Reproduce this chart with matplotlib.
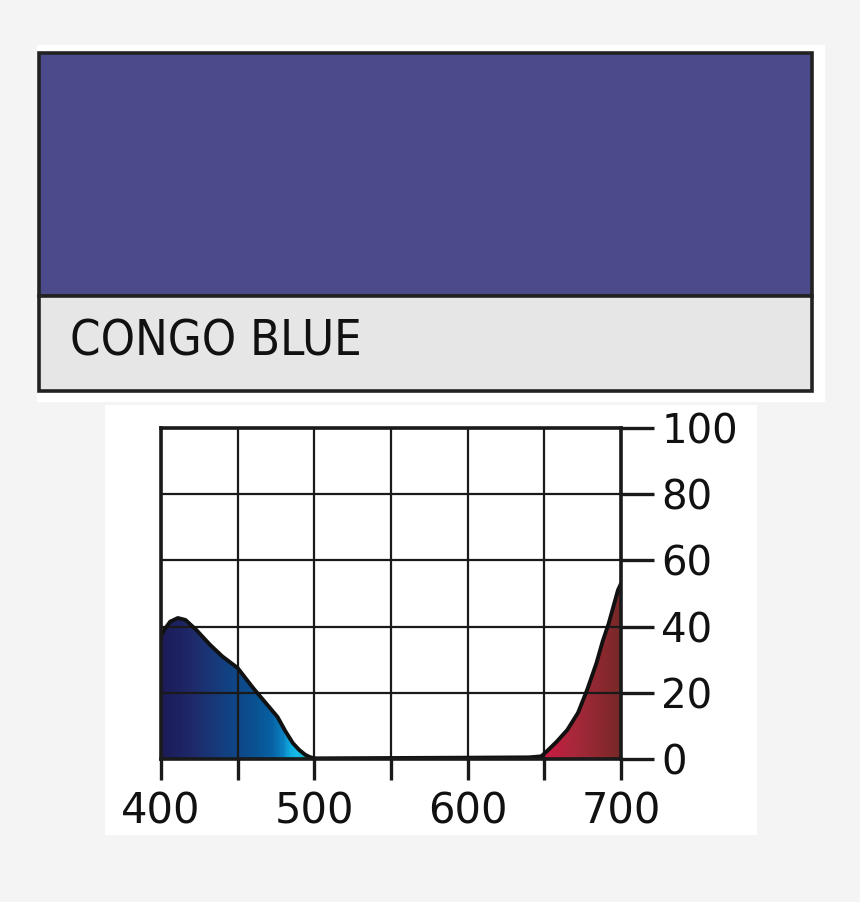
import matplotlib
matplotlib.use("Agg")
import matplotlib.pyplot as plt
import numpy as np
from matplotlib.patches import Rectangle, Polygon
from matplotlib.colors import LinearSegmentedColormap

# ---- data ----
title = "CONGO BLUE"
swatch_color = "#4b4a8a"
wavelength = [400, 402, 406, 411, 416, 423, 432, 440, 450, 460, 470, 476, 481, 486, 490, 494, 497, 500,
              550, 600, 640, 648, 652, 658, 665, 672, 678, 684, 688, 692, 695, 698, 700]
transmission = [37, 39, 41.5, 42.6, 42, 39, 34.5, 31, 27.5, 21.5, 16, 12.7, 8.5, 4.8, 2.8, 1.3, 0.6, 0.2,
                0.3, 0.4, 0.5, 0.8, 2.5, 5.2, 8.8, 14, 21, 29, 35.5, 41, 46, 51, 53]
x_ticks = [400, 500, 600, 700]
x_grid = [400, 450, 500, 550, 600, 650, 700]
y_ticks = [0, 20, 40, 60, 80, 100]
gradient_wl = [400, 420, 440, 460, 472, 479, 484, 489, 495, 500, 640, 650, 670, 700]
gradient_colors = ["#1c1b58", "#1f2a6a", "#143f80", "#0a5090", "#0762a4", "#0a80c0",
                   "#10aee2", "#18bce8", "#10aab0", "#20a090", "#c01040", "#cc1a42",
                   "#a8283a", "#782828"]

W, H = 860, 902
fig = plt.figure(figsize=(W / 100, H / 100), dpi=100)
fig.patch.set_facecolor("#f4f4f4")

# background layer in pixel coordinates
bg = fig.add_axes([0, 0, 1, 1], zorder=0)
bg.set_xlim(0, W)
bg.set_ylim(H, 0)
bg.axis("off")
bg.add_patch(Rectangle((37, 45), 788, 357, facecolor="white", edgecolor="none"))
bg.add_patch(Rectangle((105, 405), 652, 430, facecolor="white", edgecolor="none"))
bg.add_patch(Rectangle((38.5, 52.5), 773, 243.5, facecolor=swatch_color, edgecolor="#222222", lw=2.6))
bg.add_patch(Rectangle((38.5, 296), 773, 95, facecolor="#e6e6e6", edgecolor="#222222", lw=2.6))
bg.text(70, 342, title, fontsize=35, family=["DejaVu Sans"], fontstretch="condensed",
        va="center", ha="left", color="#111111")

# chart
ax = fig.add_axes([161 / W, 1 - 759 / H, 460 / W, 331 / H], zorder=1)
ax.set_xlim(400, 700)
ax.set_ylim(0, 100)
ax.set_facecolor("none")

xs = np.array(wavelength, dtype=float)
ys = np.array(transmission, dtype=float)
verts = np.vstack([np.column_stack([xs, ys]), [[700, 0], [400, 0]]])
poly = Polygon(verts, closed=True, facecolor="none", edgecolor="none",
               transform=ax.transData)
ax.add_patch(poly)

pos = [(w - 400) / 300 for w in gradient_wl]
cmap = LinearSegmentedColormap.from_list("spec", list(zip(pos, gradient_colors)))
grad = np.linspace(0, 1, 600).reshape(1, -1)
im = ax.imshow(grad, cmap=cmap, extent=[400, 700, 0, 100], aspect="auto",
               origin="lower", zorder=1, interpolation="bilinear")
im.set_clip_path(poly)

for gx in x_grid:
    ax.axvline(gx, color="#1a1a1a", lw=1.6, zorder=2)
for gy in y_ticks:
    ax.axhline(gy, color="#1a1a1a", lw=1.6, zorder=2)

ax.plot(xs, ys, color="#111111", lw=2.8, zorder=4, solid_capstyle="round",
        solid_joinstyle="round")

for s in ["left", "right", "top", "bottom"]:
    ax.spines[s].set_linewidth(2.6)
    ax.spines[s].set_color("#1a1a1a")
    ax.spines[s].set_zorder(5)

ax.set_xticks(x_grid)
ax.set_xticklabels([str(v) if v in x_ticks else "" for v in x_grid])
ax.set_yticks(y_ticks)
ax.set_yticklabels([str(v) for v in y_ticks])
ax.yaxis.tick_right()
ax.tick_params(axis="x", length=15, width=2.4, color="#1a1a1a", pad=8,
               labelsize=30, labelcolor="#111111")
ax.tick_params(axis="y", length=24, width=2.4, color="#1a1a1a", pad=5,
               labelsize=29, labelcolor="#111111")
ax.grid(False)

fig.savefig("out.png", dpi=100, facecolor=fig.get_facecolor())
